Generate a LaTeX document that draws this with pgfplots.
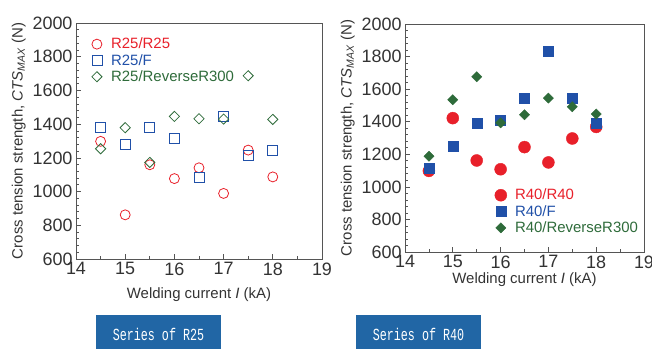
\documentclass[border=0pt]{standalone}
\usepackage{pgfplots}
\pgfplotsset{compat=1.18}
\usepackage{fontspec}
\setmainfont{Liberation Sans}
\newfontfamily\boxfont{Liberation Mono}
\definecolor{cred}{HTML}{E8202A}
\definecolor{cblue}{HTML}{2050A8}
\definecolor{cgreen}{HTML}{2E6B3A}
\definecolor{axgray}{HTML}{555555}
\definecolor{boxblue}{HTML}{2166A5}
\definecolor{txt}{HTML}{333333}
\pgfplotsset{
  common/.style={
    scale only axis,
    anchor=south west,
    xmin=14, xmax=19, ymin=600, ymax=2000,
    xtick={14,15,16,17,18,19},
    ytick={600,800,1000,1200,1400,1600,1800,2000},
    minor x tick num=1, minor y tick num=4,
    tick align=inside, tick pos=left,
    major tick length=5bp, minor tick length=3bp,
    axis line style={axgray, line width=0.9pt},
    every tick/.style={axgray, line width=0.7pt},
    tick label style={font=\fontsize{18}{18}\selectfont, text=txt},
    /pgf/number format/assume math mode=true,
    /pgf/number format/set thousands separator={},
    label style={font=\fontsize{15}{16}\selectfont, text=txt},
    xlabel={Welding current \textit{I} (kA)},
    ylabel={Cross tension strength, \textit{CTS}\textsubscript{\textit{MAX}} (N)},
    ylabel style={yshift=0bp},
    legend style={draw=none, fill=none, font=\fontsize{15}{16}\selectfont, row sep=0bp, inner sep=1bp},
    legend cell align=left,
    legend image code/.code={\path (-6bp,0bp) (12bp,0bp); \draw[#1] plot coordinates {(0bp,0bp)};},
    clip=false,
  }
}
\begin{document}
\begin{tikzpicture}
\useasboundingbox (0bp,0bp) rectangle (652bp,349bp);
% left axis
\begin{axis}[common, at={(76bp,90bp)}, width=246bp, height=236bp,
  xlabel style={yshift=-6bp},
  legend style={at={(0.055,0.95)}, anchor=north west}]
\addplot[only marks, mark=o, mark size=5bp, cred, mark options={line width=0.8pt}] coordinates {
(14.5,1298) (15,862) (15.5,1159) (16,1077) (16.5,1141) (17,989) (17.5,1246) (18,1087)};
\addlegendentry{\textcolor{cred}{R25/R25}}
\addplot[only marks, mark=square, mark size=5bp, cblue, mark options={line width=0.8pt}] coordinates {
(14.5,1379) (15,1282) (15.5,1383) (16,1317) (16.5,1087) (17,1446) (17.5,1217) (18,1242)};
\addlegendentry{\textcolor{cblue}{R25/F}}
\addplot[only marks, mark=square, mark size=3.6bp, cgreen, mark options={rotate=45, line width=0.8pt}] coordinates {
(14.5,1254) (15,1379) (15.5,1173) (16,1446) (16.5,1432) (17,1430) (17.5,1687) (18,1428)};
\addlegendentry{\textcolor{cgreen}{R25/ReverseR300}}
\end{axis}
% right axis
\begin{axis}[common, at={(405bp,97bp)}, width=239bp, height=228bp,
  xlabel style={yshift=2bp},
  legend style={at={(0.37,0.29)}, anchor=north west}]
\addplot[only marks, mark=*, mark size=6bp, cred, mark options={draw=cred, fill=cred}] coordinates {
(14.5,1098) (15,1422) (15.5,1162) (16,1108) (16.5,1244) (17,1150) (17.5,1297) (18,1368)};
\addlegendentry{\textcolor{cred}{R40/R40}}
\addplot[only marks, mark=square*, mark size=5bp, cblue, mark options={draw=cblue, fill=cblue}] coordinates {
(14.5,1117) (15,1252) (15.5,1393) (16,1408) (16.5,1547) (17,1832) (17.5,1547) (18,1393)};
\addlegendentry{\textcolor{cblue}{R40/F}}
\addplot[only marks, mark=square*, mark size=3.6bp, cgreen, mark options={rotate=45, draw=cgreen, fill=cgreen}] coordinates {
(14.5,1188) (15,1535) (15.5,1676) (16,1393) (16.5,1443) (17,1545) (17.5,1492) (18,1447)};
\addlegendentry{\textcolor{cgreen}{R40/ReverseR300}}
\end{axis}
% caption boxes
\fill[boxblue] (96bp,0bp) rectangle (221bp,34bp);
\node[text=white, font=\boxfont\fontsize{17}{17}\selectfont] at (158.5bp,15bp) {\scalebox{0.69}[1]{Series of R25}};
\fill[boxblue] (356bp,0bp) rectangle (481bp,34bp);
\node[text=white, font=\boxfont\fontsize{17}{17}\selectfont] at (418.5bp,15bp) {\scalebox{0.69}[1]{Series of R40}};
\end{tikzpicture}
\end{document}
